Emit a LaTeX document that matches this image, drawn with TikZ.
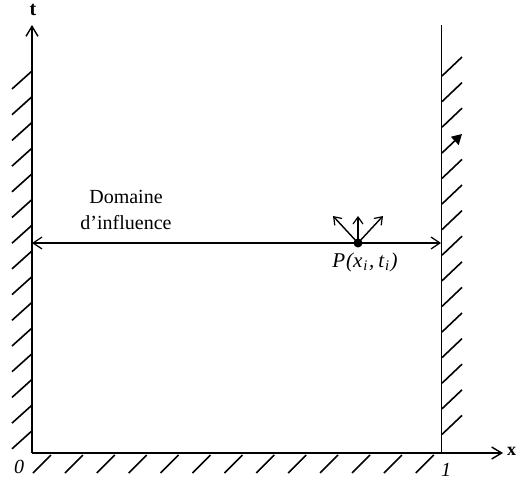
\documentclass[tikz,border=0pt]{standalone}
\usepackage{fontspec}
\setmainfont{Liberation Serif}
\usepackage{tikz}
\usetikzlibrary{arrows.meta, positioning}

\begin{document}
\begin{tikzpicture}[x=1pt, y=-1pt,
    axis/.style={line width=1.6pt, -{Straight Barb[length=10pt,width=12pt,line width=1.4pt]}},
    hatch/.style={line width=1.6pt},
    lbl/.style={font=\fontsize{20}{24}\selectfont, inner sep=0pt}]
  \useasboundingbox (0,0) rectangle (519,481);

  % corners of the domain
  \coordinate (orig) at (32,453);
  \coordinate (ttip) at (32,25);
  \coordinate (xtip) at (503,453);
  \coordinate (walltop) at (441,25);
  \coordinate (wallbot) at (441,453);
  \coordinate (leftend) at (32,243);
  \coordinate (rightend) at (441,243);

  % axes and right wall
  \draw[axis] (orig) -- (ttip);
  \draw[axis] (orig) -- (xtip);
  \draw[line width=1pt] (wallbot) -- (walltop);

  % hatching
  \foreach \k in {0,...,14}
    \draw[hatch] (32,71+25.7*\k) -- ++(-20,18);
  \foreach \k in {0,...,12}
    \draw[hatch] (33+31.9*\k,473) -- ++(18,-18);
  \foreach \k in {0,1,2,4,5,6,7,8,9,10,11,12,13,14}
    \draw[hatch] (442,76+25.6*\k) -- ++(20,-19);
  \draw[hatch, -{Triangle[length=10pt,width=11pt]}] (442,153) -- ++(20,-19);

  % labels of the axes
  \node[lbl, font=\fontsize{20}{24}\selectfont\bfseries] (tlab) at (33,10) {t};
  \node[lbl, font=\fontsize{18}{24}\selectfont\bfseries, anchor=west] (xlab) at (507,451) {x};
  \node[lbl, font=\fontsize{20}{24}\selectfont\itshape] (zero) at (19,467) {0};
  \node[lbl, font=\fontsize{20}{24}\selectfont\itshape] (one) at (446,470) {1};

  % point P and its domain of influence
  \node[circle, fill, inner sep=0pt, minimum size=9pt] (P) at (358,243) {};
  \draw[line width=1.4pt, {Straight Barb[length=9pt,width=12pt,line width=1.2pt]}-{Straight Barb[length=9pt,width=12pt,line width=1.2pt]}]
    (leftend) -- (rightend);
  \foreach \dx in {-25,0,25}
    \draw[line width=1.4pt, -{Straight Barb[length=7pt,width=10pt,line width=1.2pt]}] (P.center) -- ++(\dx,-27);
  \node[lbl, font=\fontsize{21}{24}\selectfont\itshape] (Plab) at (365,262)
    {P\kern1pt(x\kern1pt\textsubscript{i}\kern1pt,\kern4pt t\kern1pt\textsubscript{i}\kern1pt)};
  \node[lbl, align=center, font=\fontsize{20}{26}\selectfont] (dom) at (126,210) {Domaine\\d’influence};
\end{tikzpicture}
\end{document}
